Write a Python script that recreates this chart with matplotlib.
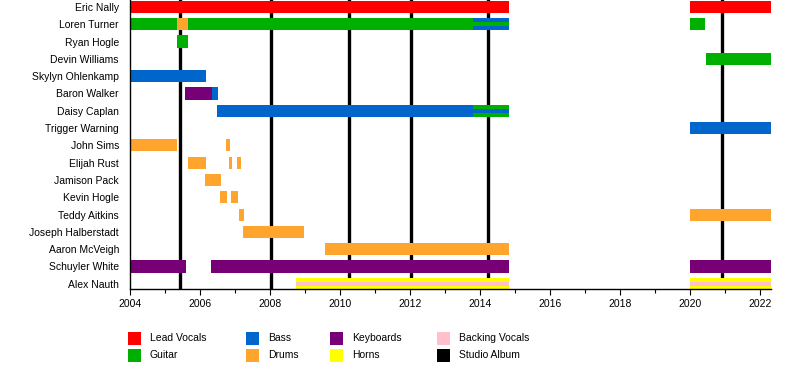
#!/usr/bin/env python3
"""Band member timeline."""

import matplotlib
matplotlib.use("Agg")
import matplotlib.pyplot as plt
from matplotlib.patches import Rectangle

members = [
    "Eric Nally", "Loren Turner", "Ryan Hogle", "Devin Williams",
    "Skylyn Ohlenkamp", "Baron Walker", "Daisy Caplan", "Trigger Warning",
    "John Sims", "Elijah Rust", "Jamison Pack", "Kevin Hogle",
    "Teddy Aitkins", "Joseph Halberstadt", "Aaron McVeigh",
    "Schuyler White", "Alex Nauth",
]

END = 2022.32

# (member, start, end) per role
lead_vocals = [("Eric Nally", 2004.0, 2014.83), ("Eric Nally", 2020.0, END)]
guitar = [
    ("Loren Turner", 2004.0, 2005.33), ("Loren Turner", 2005.67, 2013.79),
    ("Loren Turner", 2020.0, 2020.42),
    ("Ryan Hogle", 2005.33, 2005.67),
    ("Devin Williams", 2020.46, END),
    ("Daisy Caplan", 2013.79, 2014.83),
]
bass = [
    ("Loren Turner", 2013.79, 2014.83),
    ("Skylyn Ohlenkamp", 2004.0, 2006.16),
    ("Baron Walker", 2006.33, 2006.5),
    ("Daisy Caplan", 2006.49, 2013.79),
    ("Trigger Warning", 2020.0, END),
]
drums = [
    ("Loren Turner", 2005.33, 2005.67),
    ("John Sims", 2004.0, 2005.33), ("John Sims", 2006.74, 2006.86),
    ("Elijah Rust", 2005.67, 2006.17), ("Elijah Rust", 2006.83, 2006.92),
    ("Elijah Rust", 2007.06, 2007.16),
    ("Jamison Pack", 2006.14, 2006.59),
    ("Kevin Hogle", 2006.56, 2006.77), ("Kevin Hogle", 2006.89, 2007.09),
    ("Teddy Aitkins", 2007.12, 2007.26), ("Teddy Aitkins", 2020.0, END),
    ("Joseph Halberstadt", 2007.23, 2008.98),
    ("Aaron McVeigh", 2009.57, 2014.83),
]
keyboards = [
    ("Baron Walker", 2005.57, 2006.33),
    ("Schuyler White", 2004.0, 2005.59), ("Schuyler White", 2006.32, 2014.83),
    ("Schuyler White", 2020.0, END),
]
horns = [("Alex Nauth", 2008.74, 2014.83), ("Alex Nauth", 2020.0, END)]

# secondary roles drawn as thin stripes inside the main bar
guitar_stripe = [("Loren Turner", 2013.79, 2014.83)]
bass_stripe = [("Daisy Caplan", 2013.79, 2014.83)]
backing_vocals = [("Alex Nauth", 2008.74, 2014.83), ("Alex Nauth", 2020.0, END)]

studio_albums = [2005.43, 2008.03, 2010.27, 2012.03, 2014.24, 2020.92]

colors = {
    "Lead Vocals": "#ff0000",
    "Guitar": "#00b000",
    "Bass": "#0066cc",
    "Drums": "#ffa42c",
    "Keyboards": "#770077",
    "Horns": "#ffff00",
    "Backing Vocals": "#ffc0cb",
    "Studio Album": "#000000",
}

plt.rcParams["font.family"] = ["Liberation Sans", "DejaVu Sans"]

fig = plt.figure(figsize=(8, 3.68), dpi=100)
ax = fig.add_axes([0.1625, 0.2147, 0.8015, 0.7853])

row = {m: i for i, m in enumerate(members)}

for x in studio_albums:
    ax.axvline(x, color="black", lw=2.4, zorder=1)


def draw(spans, color, h=0.7):
    for m, s, e in spans:
        ax.barh(row[m], e - s, left=s, height=h, color=color, lw=0, zorder=2)


draw(lead_vocals, colors["Lead Vocals"])
draw(guitar, colors["Guitar"])
draw(bass, colors["Bass"])
draw(drums, colors["Drums"])
draw(keyboards, colors["Keyboards"])
draw(horns, colors["Horns"])
draw(guitar_stripe, colors["Guitar"], h=0.25)
draw(bass_stripe, colors["Bass"], h=0.25)
draw(backing_vocals, colors["Backing Vocals"], h=0.25)

ax.set_xlim(2004, END)
ax.set_ylim(len(members) - 0.7, -0.4)
ax.set_yticks(range(len(members)))
ax.set_yticklabels(members, fontsize=7.5)
ax.tick_params(axis="y", length=0, pad=8)
ax.set_xticks(range(2004, 2023, 2))
ax.set_xticks(range(2004, 2023), minor=True)
ax.tick_params(axis="x", labelsize=7.5, length=4, width=0.8, direction="out")
ax.tick_params(axis="x", which="minor", length=3, width=0.8)
for s in ["top", "right"]:
    ax.spines[s].set_visible(False)
ax.spines["left"].set_linewidth(1.0)
ax.spines["bottom"].set_linewidth(1.0)

# legend, laid out like the original (two rows, four columns)
legend_cols = [
    ["Lead Vocals", "Guitar"],
    ["Bass", "Drums"],
    ["Keyboards", "Horns"],
    ["Backing Vocals", "Studio Album"],
]
col_x = [128, 246, 330, 437]
row_y = [338, 355]
W, H = 800, 368
for cx, names in zip(col_x, legend_cols):
    for ry, name in zip(row_y, names):
        fig.patches.append(Rectangle(((cx) / W, 1 - (ry + 6.5) / H), 13 / W, 13 / H,
                                     transform=fig.transFigure, color=colors[name],
                                     lw=0))
        fig.text((cx + 22) / W, 1 - ry / H, name, fontsize=7.5, va="center", ha="left")

fig.savefig("out.png", dpi=100)
